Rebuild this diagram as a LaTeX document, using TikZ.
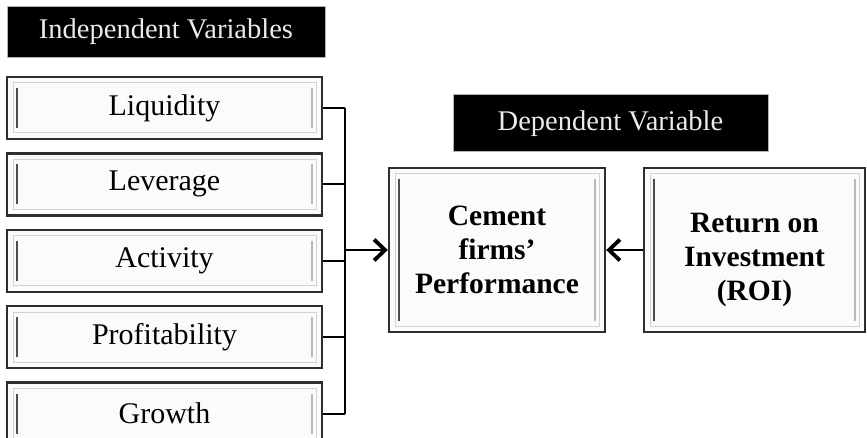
\documentclass[tikz,border=0pt]{standalone}
\usepackage{fontspec}
\setmainfont{Liberation Serif}
\usetikzlibrary{positioning, arrows.meta}
\definecolor{edge}{HTML}{2E2E2E}
\definecolor{bevel}{HTML}{D2D2D2}
\definecolor{panel}{HTML}{FBFBFB}

\tikzset{
  headbox/.style={draw=gray!60, line width=1pt, fill=black, text=white!92!black,
    inner sep=0pt, font=\fontsize{28.5}{32}\selectfont},
  varbox/.style={draw=edge, line width=2.4pt, fill=panel, inner sep=0pt,
    minimum width=315pt, minimum height=62pt, font=\fontsize{30}{34}\selectfont,
    path picture={
      \draw[bevel, line width=1pt]
        ([shift={(6pt,6pt)}]path picture bounding box.south west) rectangle
        ([shift={(-6pt,-6pt)}]path picture bounding box.north east);
      \draw[edge!85, line width=2.8pt]
        ([shift={(10pt,11pt)}]path picture bounding box.south west) --
        ([shift={(10pt,-11pt)}]path picture bounding box.north west);
      \draw[gray!55, line width=1.6pt]
        ([shift={(-10pt,11pt)}]path picture bounding box.south east) --
        ([shift={(-10pt,-11pt)}]path picture bounding box.north east);
    }},
  depbox/.style={varbox, align=center, minimum height=164pt,
    font=\bfseries\fontsize{29.5}{34}\selectfont},
  link/.style={line width=1.8pt,
    -{Straight Barb[length=11pt, width=21pt, line width=3.8pt]}}
}

\begin{document}
\begin{tikzpicture}[x=1pt, y=-1pt]
  \useasboundingbox (0,0) rectangle (867,438);

  \node[headbox, minimum width=318pt, minimum height=51pt] (indep) at (166,32) {Independent Variables};
  \node[varbox] (liq) at (164.5,108) {Liquidity};
  \node[varbox, below=12pt of liq] (lev) {Leverage};
  \node[varbox, below=12pt of lev] (act) {Activity};
  \node[varbox, below=12pt of act] (prof) {Profitability};
  \node[varbox, below=12pt of prof] (grow) {Growth};

  \node[headbox, minimum width=315pt, minimum height=57pt] (dep) at (610.5,123.5) {Dependent Variable};
  \node[depbox, minimum width=216pt] (perf) at (497,250) {Cement\\firms’\\Performance};
  \node[depbox, minimum width=221pt] (roi) at (754.5,250) {\rule{0pt}{40pt}Return on\\Investment\\(ROI)};

  \coordinate (bus) at (345,0);
  \draw[line width=1.8pt] (liq.east -| bus) -- (grow.east -| bus);
  \foreach \n in {liq,lev,act,prof,grow}
    \draw[line width=1.8pt] (\n.east) -- (\n.east -| bus);
  \draw[link] (bus |- perf.west) -- (perf.west);
  \draw[link] (roi.west) -- (perf.east);
\end{tikzpicture}
\end{document}
